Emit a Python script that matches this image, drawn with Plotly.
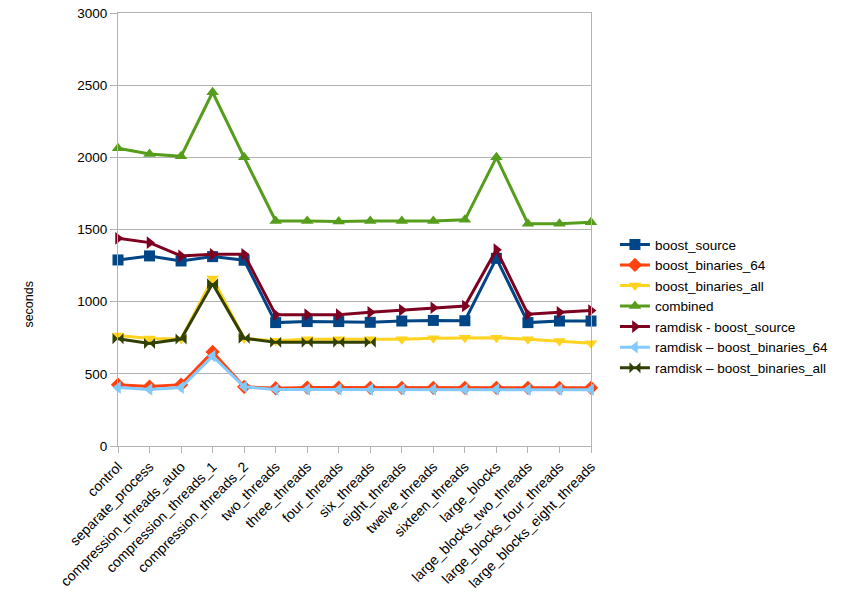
import plotly.graph_objects as go

categories = ["control", "separate_process", "compression_threads_auto", "compression_threads_1",
              "compression_threads_2", "two_threads", "three_threads", "four_threads", "six_threads",
              "eight_threads", "twelve_threads", "sixteen_threads", "large_blocks",
              "large_blocks_two_threads", "large_blocks_four_threads", "large_blocks_eight_threads"]

boost_source = [1289, 1317, 1282, 1312, 1287, 855, 862, 862, 857, 866, 870, 868, 1300, 855, 866, 866]
boost_binaries_64 = [425, 412, 425, 652, 410, 400, 405, 405, 403, 403, 403, 403, 403, 403, 403, 403]
boost_binaries_all = [765, 745, 741, 1160, 745, 730, 740, 740, 739, 740, 746, 750, 750, 740, 728, 712]
combined = [2063, 2023, 2007, 2451, 2000, 1559, 1559, 1555, 1559, 1559, 1559, 1567, 2000, 1540, 1540, 1550]
ramdisk_boost_source = [1439, 1409, 1317, 1328, 1328, 910, 910, 910, 926, 942, 958, 970, 1360, 913, 926, 938]
ramdisk_boost_binaries_64 = [405, 392, 405, 623, 410, 392, 392, 392, 392, 392, 392, 390, 392, 390, 390, 390]
ramdisk_boost_binaries_all = [743, 711, 741, 1125, 746, 718, 718, 718, 718]

y_ticks = [0, 500, 1000, 1500, 2000, 2500, 3000]

series = [
    ("boost_source", boost_source, "#004586", "square"),
    ("boost_binaries_64", boost_binaries_64, "#ff420e", "diamond"),
    ("boost_binaries_all", boost_binaries_all, "#ffd320", "triangle-down"),
    ("combined", combined, "#579d1c", "triangle-up"),
    ("ramdisk - boost_source", ramdisk_boost_source, "#7e0021", "triangle-right"),
    ("ramdisk \u2013 boost_binaries_64", ramdisk_boost_binaries_64, "#83caff", "triangle-left"),
    ("ramdisk \u2013 boost_binaries_all", ramdisk_boost_binaries_all, "#314004", "bowtie"),
]

fig = go.Figure()
for name, vals, color, sym in series:
    fig.add_trace(go.Scatter(
        x=categories[:len(vals)], y=vals, name=name, mode="lines+markers",
        line=dict(color=color, width=3),
        marker=dict(symbol=sym, size=11, color=color),
        cliponaxis=False,
    ))

fig.update_layout(
    width=851, height=611,
    margin=dict(l=118, r=260, t=13, b=165, autoexpand=False),
    plot_bgcolor="white", paper_bgcolor="white",
    font=dict(family="Liberation Sans, Arial, sans-serif", size=14, color="#000000"),
    showlegend=True,
    legend=dict(x=1.0506, y=0.323, yanchor="middle", xanchor="left",
                font=dict(size=13.5), bgcolor="rgba(0,0,0,0)",
                itemwidth=30, tracegroupgap=0),
    annotations=[dict(text="seconds", xref="paper", yref="paper", x=-0.189, y=0.328,
                      textangle=-90, showarrow=False, xanchor="center", yanchor="middle",
                      font=dict(size=12.5))],
)
fig.update_xaxes(
    type="category", categoryorder="array", categoryarray=categories,
    range=[0, len(categories) - 1], automargin=False,
    tickangle=-45, ticks="outside", ticklen=6, tickcolor="#b3b3b3",
    tickfont=dict(size=14), ticklabeloverflow="allow",
    showline=True, linecolor="#b3b3b3", linewidth=1, mirror=True,
    showgrid=False, zeroline=False,
)
fig.update_yaxes(
    range=[0, 3000], tickvals=y_ticks, ticks="outside", ticklen=7, tickcolor="#b3b3b3",
    tickfont=dict(size=13.5), automargin=False, ticklabeloverflow="allow",
    showline=True, linecolor="#b3b3b3", linewidth=1, mirror=True,
    showgrid=True, gridcolor="#b3b3b3", gridwidth=1, zeroline=False,
)

fig.write_html("out.html", config={"displayModeBar": False},
               post_script="document.body.style.margin='0';")
